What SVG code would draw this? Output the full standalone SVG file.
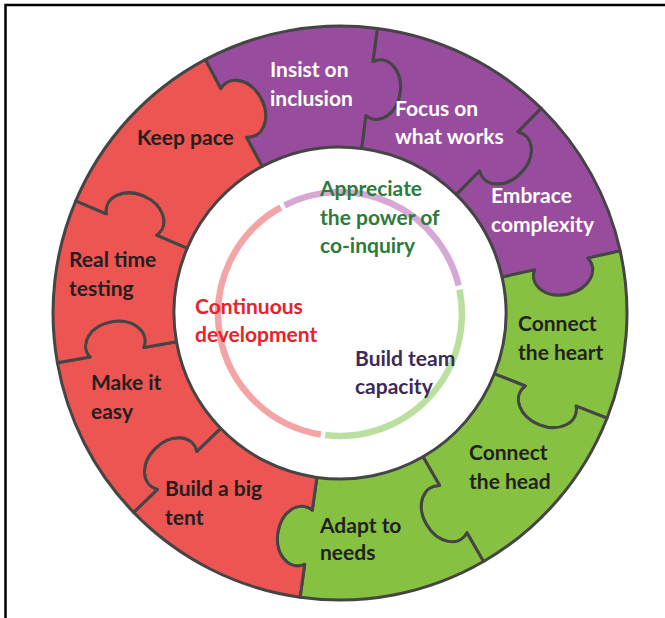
<svg xmlns="http://www.w3.org/2000/svg" width="665" height="618" viewBox="0 0 665 618">
<style>
.pc{stroke:#454545;stroke-width:3;stroke-linejoin:round}
.red{fill:#ec5552}
.pur{fill:#984c9d}
.grn{fill:#86c141}
text{font-family:Lato,"Open Sans","Liberation Sans",sans-serif;font-weight:700;font-size:21px}
.w{fill:#ffffff}
.d{fill:#231f20}
.ring{fill:none;stroke-width:6.5}
</style>
<rect width="665" height="618" fill="#ffffff"/>
<polyline points="5.5,618 5.5,5 665,5" fill="none" stroke="#000" stroke-width="2.5"/>
<g id="insist">
<path class="pc pur" d="M 205.3,59.6 A 287 287 0 0 1 377.5,28.5 L 373.1,61.3 A 22 30 7.5 1 1 366.0,115.6 L 361.7,148.4 A 166 166 0 0 0 262.1,166.4 L 246.5,137.2 A 22 30 332 1 0 220.8,88.8 Z"/>
<text class="w" x="270" y="77">Insist on</text><text class="w" x="270" y="106">inclusion</text>
</g>
<g id="focus">
<path class="pc pur" d="M 377.5,28.5 A 287 287 0 0 1 541.2,108.3 L 518.0,131.9 A 22 30 44.5 1 1 479.6,171.0 L 456.3,194.6 A 166 166 0 0 0 361.7,148.4 L 366.0,115.6 A 22 30 7.5 1 0 373.1,61.3 Z"/>
<text class="w" x="395" y="116">Focus on</text><text class="w" x="395" y="144">what works</text>
</g>
<g id="embrace">
<path class="pc pur" d="M 541.2,108.3 A 287 287 0 0 1 620.2,250.9 L 587.9,258.1 A 22 30 77.5 1 1 534.4,269.9 L 502.1,277.1 A 166 166 0 0 0 456.3,194.6 L 479.6,171.0 A 22 30 44.5 1 0 518.0,131.9 Z"/>
<text class="w" x="491" y="203">Embrace</text><text class="w" x="491" y="232">complexity</text>
</g>
<g id="heart">
<path class="pc grn" d="M 620.2,250.9 A 287 287 0 0 1 607.0,418.2 L 576.2,406.1 A 22 30 111.5 1 1 525.2,386.0 L 494.4,373.8 A 166 166 0 0 0 502.1,277.1 L 534.4,269.9 A 22 30 77.5 1 0 587.9,258.1 Z"/>
<text class="d" x="518" y="331">Connect</text><text class="d" x="518" y="360">the heart</text>
</g>
<g id="head">
<path class="pc grn" d="M 607.0,418.2 A 287 287 0 0 1 483.5,561.5 L 467.0,532.9 A 22 30 150 1 1 439.6,485.4 L 423.0,456.8 A 166 166 0 0 0 494.4,373.8 L 525.2,386.0 A 22 30 111.5 1 0 576.2,406.1 Z"/>
<text class="d" x="469" y="460">Connect</text><text class="d" x="469" y="489">the head</text>
</g>
<g id="adapt">
<path class="pc grn" d="M 483.5,561.5 A 287 287 0 0 1 300.1,597.2 L 304.7,564.4 A 22 30 188 1 1 312.3,510.2 L 316.9,477.4 A 166 166 0 0 0 423.0,456.8 L 439.6,485.4 A 22 30 150 1 0 467.0,532.9 Z"/>
<text class="d" x="320" y="533">Adapt to</text><text class="d" x="320" y="560">needs</text>
</g>
<g id="tent">
<path class="pc red" d="M 300.1,597.2 A 287 287 0 0 1 133.6,512.4 L 157.4,489.4 A 22 30 226 1 1 196.8,451.3 L 220.6,428.3 A 166 166 0 0 0 316.9,477.4 L 312.3,510.2 A 22 30 188 1 0 304.7,564.4 Z"/>
<text class="d" x="165" y="496">Build a big</text><text class="d" x="165" y="525">tent</text>
</g>
<g id="easy">
<path class="pc red" d="M 133.6,512.4 A 287 287 0 0 1 57.4,362.8 L 90.0,357.1 A 22 30 260 1 1 143.9,347.6 L 176.5,341.8 A 166 166 0 0 0 220.6,428.3 L 196.8,451.3 A 22 30 226 1 0 157.4,489.4 Z"/>
<text class="d" x="91" y="390">Make it</text><text class="d" x="91" y="419">easy</text>
</g>
<g id="real">
<path class="pc red" d="M 57.4,362.8 A 287 287 0 0 1 75.8,200.9 L 106.3,213.8 A 22 30 293 1 1 156.7,235.2 L 187.2,248.1 A 166 166 0 0 0 176.5,341.8 L 143.9,347.6 A 22 30 260 1 0 90.0,357.1 Z"/>
<text class="d" x="69" y="267">Real time</text><text class="d" x="69" y="296">testing</text>
</g>
<g id="keep">
<path class="pc red" d="M 75.8,200.9 A 287 287 0 0 1 205.3,59.6 L 220.8,88.8 A 22 30 332 1 1 246.5,137.2 L 262.1,166.4 A 166 166 0 0 0 187.2,248.1 L 156.7,235.2 A 22 30 293 1 0 106.3,213.8 Z"/>
<text class="d" x="137" y="145">Keep pace</text>
</g>
<g id="inner-ring">
<path class="ring" stroke="#d6a8d6" d="M 284.6,205.3 A 122 122 0 0 1 458.6,285.5"/>
<path class="ring" stroke="#badf9f" d="M 459.5,289.7 A 122 122 0 0 1 325.1,435.1"/>
<path class="ring" stroke="#f4a4a4" d="M 320.9,434.5 A 122 122 0 0 1 280.9,207.3"/>
</g>
<g id="co-inquiry">
<text fill="#2b7b3a" x="320" y="196">Appreciate</text><text fill="#2b7b3a" x="320" y="225">the power of</text><text fill="#2b7b3a" x="320" y="253">co-inquiry</text>
</g>
<g id="continuous">
<text fill="#e8212b" x="195" y="314">Continuous</text><text fill="#e8212b" x="195" y="342">development</text>
</g>
<g id="team">
<text fill="#3c2a58" x="355" y="366">Build team</text><text fill="#3c2a58" x="355" y="394">capacity</text>
</g>
</svg>
